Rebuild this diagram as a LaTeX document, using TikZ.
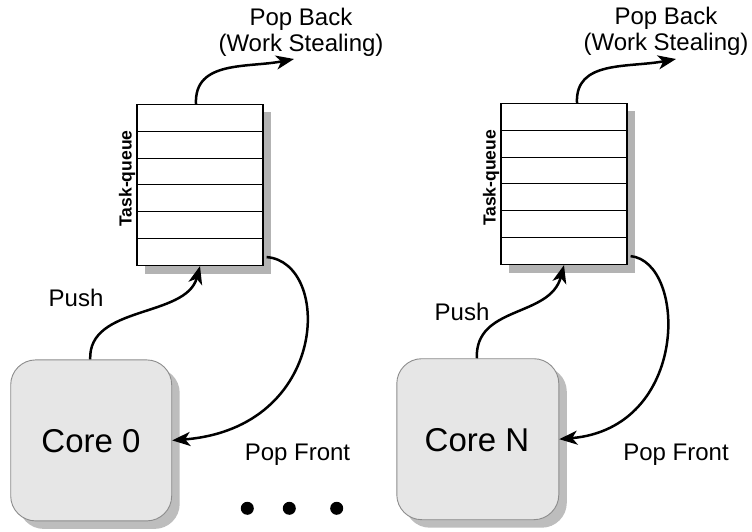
\documentclass[tikz,border=0pt]{standalone}
\usepackage{fontspec}
\setmainfont{Liberation Sans}
\usetikzlibrary{arrows.meta,shadows}

\definecolor{corefill}{HTML}{E6E6E6}
\definecolor{coreedge}{HTML}{8C8C8C}
\definecolor{coreshadow}{HTML}{BDBDBD}
\definecolor{queueshadow}{HTML}{B3B3B3}

\tikzset{
  corebox/.style={draw=coreedge, line width=0.9pt, fill=corefill,
    rounded corners=25pt, minimum width=161pt, minimum height=161pt,
    inner sep=0pt, font=\fontsize{33}{36}\selectfont,
    general shadow={fill=coreshadow, shadow xshift=8pt, shadow yshift=-8pt}},
  queuebox/.style={draw=black, line width=1.2pt, fill=white,
    minimum width=126pt, minimum height=161pt, inner sep=0pt,
    general shadow={fill=queueshadow, shadow xshift=8pt, shadow yshift=-8pt},
    path picture={
      \foreach \k in {1,...,5}
        \draw[line width=1pt]
          ([yshift=-\k*26.83pt]path picture bounding box.north west) --
          ([yshift=-\k*26.83pt]path picture bounding box.north east);
    }},
  qlabel/.style={rotate=90, inner sep=0pt,
    font=\bfseries\fontsize{17.5}{19}\selectfont},
  lbl/.style={inner sep=0pt, font=\fontsize{24}{26}\selectfont},
  flow/.style={line width=2.5pt,
    -{Stealth[length=18pt,width=14pt,inset=5pt]}},
  dotmark/.style={circle, fill=black, inner sep=0pt, minimum size=13pt},
}

\begin{document}
\begin{tikzpicture}[x=1pt, y=-1pt]
  \useasboundingbox (0,0) rectangle (752,532);

  % ---- left group: core 0 and its task queue ----
  \node[queuebox] (q0) at (200,185) {};
  \node[qlabel] (q0l) at (127,178.5) {Task-queue};
  \node[corebox] (c0) at (91.2,440.4) {};
  \node[anchor=base, inner sep=0pt, font=\fontsize{33}{36}\selectfont]
    (c0t) at (91,452.3) {Core 0};

  \node[lbl, align=center] (pb0) at (301,32.6) {Pop Back\\(Work Stealing)};
  \node[lbl, anchor=base] (push0) at (76,306) {Push};
  \node[lbl, anchor=base] (pf0) at (297.5,460) {Pop Front};

  \coordinate (pb0tip) at (294,59);
  \draw[flow] ([xshift=-4pt]q0.north) .. controls (194,60) and (248,68) .. (pb0tip);
  \draw[flow] ([xshift=-1pt]c0.north) .. controls (88,305) and (186,318) .. (q0.south);
  \draw[flow] ([xshift=3pt,yshift=9pt]q0.south east)
    .. controls (332,262) and (330,428) .. (c0.east);

  % ---- right group: core N and its task queue ----
  \node[queuebox] (qn) at (564,184) {};
  \node[qlabel] (qnl) at (491,178) {Task-queue};
  \node[corebox, minimum width=162pt] (cn) at (477.8,439.2) {};
  \node[anchor=base, inner sep=0pt, font=\fontsize{33}{36}\selectfont]
    (cnt) at (477,451.7) {Core N};

  \node[lbl, align=center] (pbn) at (666,31.5) {Pop Back\\(Work Stealing)};
  \node[lbl, anchor=base] (pushn) at (462,320) {Push};
  \node[lbl, anchor=base] (pfn) at (676,460) {Pop Front};

  \coordinate (pbntip) at (676,59);
  \draw[flow] ([xshift=13pt]qn.north) .. controls (575,60) and (628,68) .. (pbntip);
  \draw[flow] ([xshift=-1pt]cn.north) .. controls (475,305) and (550,318) .. (qn.south);
  \draw[flow] ([xshift=3pt,yshift=9pt]qn.south east)
    .. controls (687,262) and (690,428) .. (cn.east);

  % ---- ellipsis between the groups ----
  \node[dotmark] (d1) at (247.3,508.3) {};
  \node[dotmark] (d2) at (289.3,508.3) {};
  \node[dotmark] (d3) at (336.7,508.3) {};
\end{tikzpicture}
\end{document}
